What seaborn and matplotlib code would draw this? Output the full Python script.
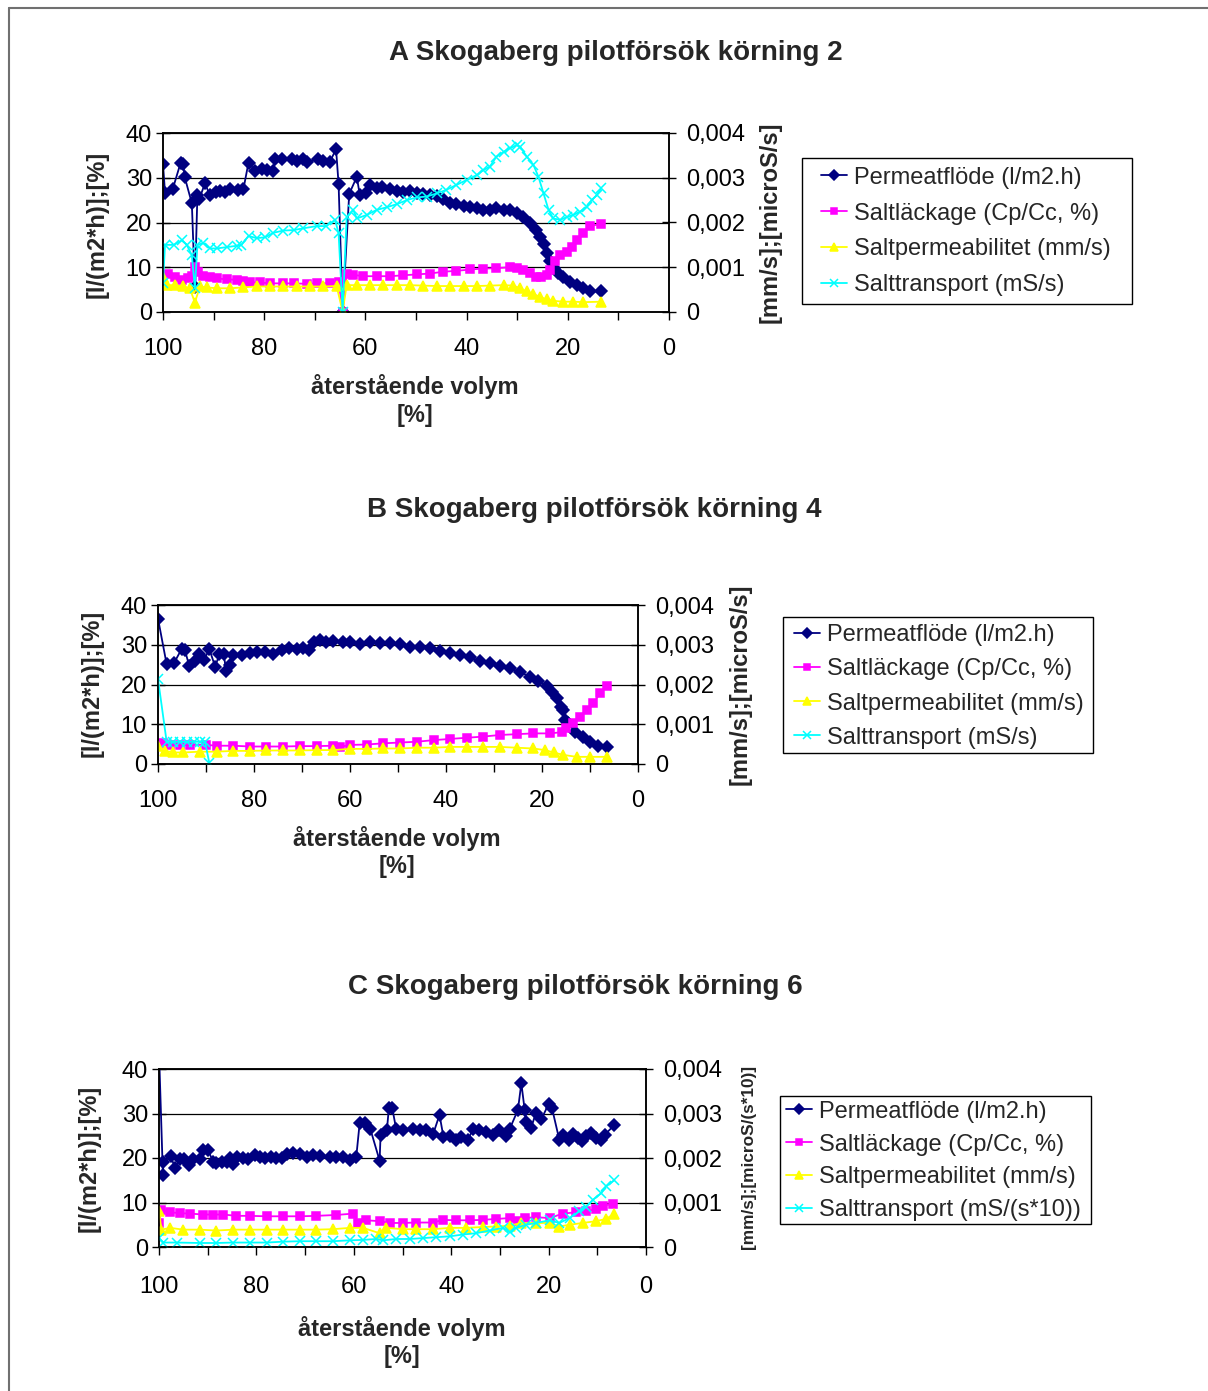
import numpy as np
import matplotlib
matplotlib.use("Agg")
import matplotlib.pyplot as plt
from matplotlib.lines import Line2D
from matplotlib.patches import Rectangle
from matplotlib.ticker import FixedLocator
import seaborn as sns

sns.set_style("white")
plt.rcParams["font.family"] = ["Liberation Sans", "DejaVu Sans"]

# ---------------- data: A, körning 2 ----------------
a_perm_vol = [100, 99.6, 98.1, 96.5, 96.0, 95.7, 94.3, 93.7, 93.2, 92.8, 91.7, 90.8, 89.6, 88.7, 87.7,
              86.8, 85.1, 84.1, 83.1, 81.8, 80.5, 79.5, 78.2, 77.9, 76.4, 74.6, 73.6, 72.3, 71.6, 69.3,
              68.3, 67.0, 65.8, 65.3, 64.5, 63.2, 61.7, 61.1, 59.9, 59.0, 57.8, 56.8, 55.1, 53.8, 52.5,
              51.2, 49.9, 48.6, 47.2, 45.9, 44.6, 43.3, 42.0, 40.6, 39.3, 38.0, 36.7, 35.4, 34.1, 32.7,
              31.4, 30.1, 28.8, 27.5, 26.2, 25.5, 24.8, 24.2, 23.5, 22.7, 21.9, 20.9, 19.6, 18.2, 16.9,
              15.6, 13.5]
a_perm = [33.0, 26.7, 27.4, 33.4, 33.0, 30.1, 24.3, 5.5, 26.2, 25.3, 28.8, 26.2, 26.9, 27.1, 26.9,
          27.4, 27.3, 27.5, 33.4, 31.6, 31.9, 31.7, 31.4, 34.3, 34.3, 34.1, 33.8, 34.3, 33.6, 34.1,
          33.8, 33.6, 36.4, 28.6, 0.1, 26.4, 30.2, 26.1, 26.5, 28.4, 27.6, 28.0, 27.4, 27.0, 26.9,
          27.1, 26.7, 26.4, 26.1, 25.9, 25.2, 24.4, 24.1, 23.7, 23.4, 23.2, 22.8, 22.7, 23.2, 22.9,
          22.8, 22.1, 21.2, 19.8, 18.3, 16.8, 15.2, 13.1, 11.3, 9.8, 8.7, 7.8, 6.8, 6.0, 5.3,
          4.6, 4.6]

a_leak_vol = [100, 99.0, 97.6, 96.3, 95.0, 94.3, 93.7, 93.0, 92.0, 90.7, 89.4, 87.4, 85.4, 84.1, 82.8,
              80.8, 78.9, 76.2, 74.2, 71.6, 69.6, 67.0, 65.3, 64.5, 63.7, 62.4, 60.4, 57.8, 55.1, 52.5,
              49.9, 47.2, 44.6, 42.0, 39.3, 36.7, 34.1, 31.4, 30.1, 28.8, 27.5, 26.2, 25.2, 24.2, 23.5,
              22.5, 21.5, 20.2, 19.2, 18.2, 16.9, 15.6, 13.4]
a_leak = [8.3, 8.5, 7.9, 7.2, 7.5, 8.0, 10.1, 9.0, 8.0, 7.8, 7.5, 7.3, 7.2, 7.0, 6.6,
          6.6, 6.4, 6.4, 6.4, 6.3, 6.4, 6.4, 6.8, 0.1, 8.5, 8.3, 8.0, 8.0, 8.0, 8.2,
          8.4, 8.6, 9.0, 9.2, 9.5, 9.7, 9.8, 10.0, 9.9, 9.4, 8.7, 7.9, 7.8, 8.3, 9.4,
          11.3, 12.7, 13.3, 14.6, 16.0, 17.6, 19.2, 19.7]

a_pmb_vol = [100, 99.3, 97.6, 96.0, 94.7, 93.7, 92.7, 91.4, 89.4, 86.8, 84.1, 81.5, 78.9, 76.2, 73.6,
             70.9, 68.3, 65.7, 64.5, 63.7, 61.7, 59.1, 56.5, 53.8, 51.2, 48.6, 45.9, 43.3, 40.6, 38.0,
             35.4, 32.7, 30.8, 29.4, 28.1, 26.8, 25.5, 24.2, 22.9, 20.9, 18.9, 16.9, 13.4]
a_pmb = [7.9e-4, 6.0e-4, 6.0e-4, 5.7e-4, 5.3e-4, 2.1e-4, 5.7e-4, 5.5e-4, 5.3e-4, 5.3e-4, 5.5e-4, 5.7e-4,
         5.7e-4, 5.7e-4, 5.7e-4, 5.7e-4, 5.7e-4, 5.8e-4, 0.1e-4, 6.0e-4, 6.0e-4, 6.0e-4, 6.0e-4, 6.0e-4,
         6.0e-4, 5.9e-4, 5.8e-4, 5.8e-4, 5.8e-4, 5.8e-4, 5.9e-4, 6.0e-4, 5.9e-4, 5.3e-4, 4.6e-4, 4.0e-4,
         3.4e-4, 2.8e-4, 2.5e-4, 2.3e-4, 2.3e-4, 2.2e-4, 2.3e-4]

a_trans_vol = [100, 99.6, 97.9, 96.3, 95.3, 94.3, 93.7, 93.2, 92.0, 90.7, 89.4, 87.4, 85.4, 84.5, 83.1,
               81.5, 79.8, 78.2, 76.2, 74.2, 72.3, 69.6, 67.7, 66.0, 65.3, 64.5, 63.7, 62.4, 61.7, 59.7,
               57.8, 55.8, 53.8, 51.8, 49.9, 47.9, 45.9, 44.0, 42.0, 40.0, 38.0, 36.7, 35.4, 34.1, 32.7,
               31.4, 30.1, 29.4, 28.1, 26.8, 25.8, 24.8, 23.8, 22.9, 21.5, 20.2, 18.9, 17.6, 16.3, 15.3,
               14.3, 13.4]
a_trans = [6.4e-4, 15.0e-4, 15.0e-4, 16.0e-4, 15.0e-4, 12.7e-4, 5.3e-4, 15.0e-4, 15.4e-4, 14.2e-4,
           14.2e-4, 14.5e-4, 14.8e-4, 15.0e-4, 17.0e-4, 16.5e-4, 16.7e-4, 17.7e-4, 18.2e-4, 18.3e-4,
           18.7e-4, 19.2e-4, 19.2e-4, 20.6e-4, 17.6e-4, 0.1e-4, 21.2e-4, 22.8e-4, 20.9e-4, 21.7e-4,
           22.8e-4, 23.4e-4, 24.1e-4, 25.0e-4, 25.6e-4, 25.8e-4, 26.5e-4, 27.3e-4, 28.4e-4, 29.5e-4,
           30.6e-4, 31.7e-4, 32.5e-4, 34.7e-4, 35.8e-4, 36.6e-4, 37.3e-4, 36.9e-4, 34.7e-4, 32.9e-4,
           30.2e-4, 26.5e-4, 22.8e-4, 20.9e-4, 20.6e-4, 21.2e-4, 21.7e-4, 22.4e-4, 23.5e-4, 25.0e-4,
           26.1e-4, 27.6e-4]

# ---------------- data: B, körning 4 ----------------
b_perm_vol = [100, 98.2, 96.7, 95.1, 94.4, 93.5, 92.3, 91.4, 90.4, 89.3, 88.1, 87.2, 86.3, 85.8, 85.1,
              84.3, 82.6, 80.8, 79.4, 77.7, 76.0, 74.2, 72.8, 71.1, 69.7, 68.5, 67.6, 66.3, 64.9, 63.5,
              61.4, 60.0, 57.9, 55.8, 53.8, 51.7, 49.6, 47.5, 45.4, 43.3, 41.3, 39.2, 37.1, 35.0, 32.9,
              30.8, 28.8, 26.7, 24.6, 22.5, 20.8, 19.0, 18.0, 16.9, 16.1, 15.6, 15.2, 14.5, 13.1, 11.4,
              10.0, 8.3, 6.5]
b_perm = [36.6, 25.1, 25.3, 28.9, 28.7, 24.7, 25.9, 27.6, 26.2, 28.9, 24.5, 27.6, 27.6, 23.4, 24.9,
          27.4, 27.3, 27.8, 28.1, 28.1, 27.6, 28.7, 29.3, 28.9, 29.1, 28.7, 30.8, 31.2, 30.8, 30.9,
          30.8, 30.6, 30.1, 30.6, 30.4, 30.4, 30.1, 29.5, 29.5, 29.1, 28.4, 27.8, 27.3, 26.8, 25.9,
          25.3, 24.7, 24.1, 23.1, 22.0, 20.9, 19.7, 18.2, 16.5, 14.4, 13.6, 11.1, 10.2, 8.1, 6.9,
          5.6, 4.6, 4.4]

b_leak_vol = [100, 98.9, 97.5, 95.4, 93.3, 89.9, 87.8, 84.3, 80.8, 77.4, 73.9, 70.4, 66.9, 63.5, 62.1,
              60.0, 56.5, 53.1, 49.6, 46.1, 42.6, 39.2, 35.7, 32.2, 28.8, 25.3, 21.8, 18.3, 15.9, 14.9,
              13.5, 12.1, 10.7, 9.3, 7.9, 6.5]
b_leak = [4.6, 5.2, 4.9, 4.8, 4.8, 4.8, 4.6, 4.6, 4.4, 4.4, 4.4, 4.5, 4.5, 4.6, 4.3,
          4.8, 4.9, 5.2, 5.4, 5.6, 6.0, 6.3, 6.6, 6.9, 7.3, 7.5, 7.7, 7.7, 8.0, 9.0,
          10.2, 11.9, 13.6, 15.3, 17.8, 19.7]

b_pmb_vol = [100, 98.5, 96.8, 94.7, 91.3, 87.8, 84.3, 80.8, 77.4, 73.9, 70.4, 66.9, 63.5, 60.0, 56.5,
             53.1, 49.6, 46.1, 42.6, 39.2, 35.7, 32.2, 28.8, 25.3, 21.8, 19.4, 17.6, 15.6, 12.8, 10.0,
             6.5]
b_pmb = [4.6e-4, 3.3e-4, 2.9e-4, 2.9e-4, 3.1e-4, 3.1e-4, 3.3e-4, 3.3e-4, 3.4e-4, 3.4e-4, 3.4e-4,
         3.5e-4, 3.5e-4, 3.8e-4, 3.8e-4, 3.9e-4, 3.9e-4, 4.1e-4, 4.1e-4, 4.3e-4, 4.3e-4, 4.3e-4,
         4.3e-4, 4.1e-4, 3.9e-4, 3.5e-4, 2.9e-4, 2.3e-4, 1.8e-4, 1.8e-4, 1.8e-4]

b_trans_vol = [100, 98.2, 96.8, 95.4, 94.0, 92.6, 91.3, 90.2, 89.3]
b_trans = [21.4e-4, 5.6e-4, 5.5e-4, 5.6e-4, 5.5e-4, 5.6e-4, 5.6e-4, 5.6e-4, 0.2e-4]

# ---------------- data: C, körning 6 ----------------
c_perm_vol = [100, 99.2, 99.1, 97.6, 96.7, 95.7, 94.9, 93.8, 93.0, 91.6, 91.0, 89.9, 88.9, 88.2, 87.1,
              86.1, 85.4, 84.8, 83.9, 82.7, 81.7, 80.3, 79.3, 78.3, 76.9, 75.9, 74.8, 73.8, 72.5, 71.1,
              69.7, 68.4, 67.0, 64.9, 63.6, 62.2, 60.8, 59.5, 58.8, 57.6, 56.6, 54.7, 54.5, 53.2, 52.8,
              52.1, 51.3, 49.9, 47.8, 46.5, 45.1, 43.7, 42.4, 41.6, 40.3, 39.0, 38.0, 36.6, 35.5, 34.2,
              32.8, 31.4, 30.1, 28.7, 28.0, 26.3, 25.6, 24.9, 24.6, 23.6, 22.6, 21.5, 20.0, 19.3, 17.8,
              17.0, 15.9, 15.0, 14.0, 13.1, 12.3, 11.3, 10.3, 9.2, 8.5, 6.5]
c_perm = [44.0, 16.2, 19.0, 20.5, 17.7, 19.7, 19.7, 18.5, 19.7, 19.7, 21.7, 21.7, 19.2, 18.8, 19.0,
          19.0, 20.0, 18.7, 20.2, 20.0, 19.7, 20.7, 20.3, 20.0, 20.2, 20.0, 20.0, 20.9, 21.2, 20.9,
          20.3, 20.7, 20.5, 20.3, 20.3, 20.2, 19.6, 20.2, 27.8, 27.8, 26.5, 19.4, 25.2, 26.3, 31.2,
          31.2, 26.5, 26.2, 26.5, 26.2, 26.3, 25.4, 29.7, 24.8, 25.0, 24.1, 24.7, 24.1, 26.5, 26.2,
          25.9, 25.2, 26.3, 25.0, 26.5, 30.8, 36.8, 30.7, 28.2, 26.7, 30.2, 28.7, 32.1, 31.2, 24.1,
          25.2, 24.1, 25.4, 24.4, 23.9, 25.0, 25.6, 24.4, 24.1, 25.2, 27.4]

c_leak_vol = [100, 99.5, 97.7, 95.7, 93.6, 90.9, 88.9, 86.8, 84.1, 81.3, 77.9, 74.5, 71.1, 67.7, 63.6,
              60.2, 59.1, 57.4, 54.7, 52.6, 49.9, 47.2, 43.7, 41.7, 39.0, 36.2, 33.5, 30.8, 28.0, 26.3,
              24.9, 22.6, 19.8, 17.1, 14.4, 12.3, 10.3, 8.9, 6.7]
c_leak = [5.4, 8.4, 7.8, 7.6, 7.5, 7.3, 7.3, 7.3, 7.0, 7.0, 6.9, 6.9, 6.9, 7.0, 7.2,
          7.5, 5.5, 6.0, 5.8, 5.4, 5.4, 5.5, 5.5, 6.1, 6.0, 6.0, 6.1, 6.3, 6.5, 5.8,
          6.5, 6.7, 6.5, 7.5, 7.8, 8.0, 8.5, 9.3, 9.7]

c_pmb_vol = [100, 99.5, 97.7, 95.0, 91.6, 88.2, 84.8, 81.3, 77.9, 74.5, 71.1, 67.7, 64.3, 60.8, 58.1,
             54.7, 53.3, 49.9, 47.2, 43.7, 40.3, 36.9, 33.5, 30.8, 28.0, 25.6, 22.6, 19.8, 17.8, 15.7,
             13.0, 10.3, 8.2, 6.5]
c_pmb = [8.2e-4, 3.9e-4, 4.3e-4, 3.9e-4, 3.9e-4, 3.7e-4, 3.9e-4, 3.9e-4, 3.9e-4, 3.9e-4, 3.9e-4,
         3.9e-4, 4.0e-4, 4.3e-4, 4.3e-4, 3.1e-4, 4.3e-4, 4.0e-4, 4.0e-4, 4.0e-4, 4.3e-4, 4.3e-4,
         4.5e-4, 4.6e-4, 4.8e-4, 5.4e-4, 5.4e-4, 5.4e-4, 4.6e-4, 5.0e-4, 5.4e-4, 5.8e-4, 6.3e-4, 7.5e-4]

c_trans_vol = [100, 99.1, 96.4, 91.6, 88.2, 84.8, 81.3, 77.9, 74.5, 71.1, 67.7, 64.3, 60.8, 58.1, 55.4,
               54.0, 51.3, 48.5, 45.8, 43.1, 40.3, 37.6, 34.9, 32.1, 29.4, 28.0, 26.7, 24.6, 22.6, 19.8,
               17.8, 15.7, 13.7, 12.3, 10.9, 9.2, 8.2, 6.5]
c_trans = [2.0e-4, 1.0e-4, 1.0e-4, 0.9e-4, 0.9e-4, 1.0e-4, 1.0e-4, 1.0e-4, 1.2e-4, 1.3e-4, 1.3e-4,
           1.3e-4, 1.5e-4, 1.6e-4, 1.8e-4, 1.5e-4, 1.8e-4, 1.8e-4, 2.0e-4, 2.2e-4, 2.4e-4, 2.8e-4,
           3.1e-4, 3.7e-4, 4.3e-4, 3.3e-4, 4.3e-4, 5.0e-4, 5.4e-4, 6.0e-4, 5.4e-4, 6.5e-4, 8.0e-4,
           9.1e-4, 10.6e-4, 12.1e-4, 13.6e-4, 15.0e-4]

# ---------------- text ----------------
titles = ["A Skogaberg pilotförsök körning 2",
          "B Skogaberg pilotförsök körning 4",
          "C Skogaberg pilotförsök körning 6"]
x_label = "återstående volym\n[%]"
y_left_label = "[l/(m2*h)];[%]"
y_right_labels = ["[mm/s];[microS/s]", "[mm/s];[microS/s]", "[mm/s];[microS/(s*10)]"]
legend_labels = [
    ["Permeatflöde (l/m2.h)", "Saltläckage (Cp/Cc, %)", "Saltpermeabilitet (mm/s)", "Salttransport (mS/s)"],
    ["Permeatflöde (l/m2.h)", "Saltläckage (Cp/Cc, %)", "Saltpermeabilitet (mm/s)", "Salttransport (mS/s)"],
    ["Permeatflöde (l/m2.h)", "Saltläckage (Cp/Cc, %)", "Saltpermeabilitet (mm/s)", "Salttransport (mS/(s*10))"],
]
left_ticks = [0, 10, 20, 30, 40]
right_ticks = [0, 0.001, 0.002, 0.003, 0.004]
right_tick_labels = ["0", "0,001", "0,002", "0,003", "0,004"]

# ---------------- figure ----------------
W, H = 1208, 1391
fig = plt.figure(figsize=(W / 100, H / 100), dpi=100)
fig.patch.set_facecolor("white")


def fx(px):
    return px / W


def fy(py):
    return 1 - py / H


STYLE = {
    "perm": dict(color="#000080", marker="D", ms=6.5),
    "leak": dict(color="#FF00FF", marker="s", ms=6.0),
    "pmb": dict(color="#FFFF00", marker="^", ms=6.5),
    "trans": dict(color="#00FFFF", marker="x", ms=6.5),
}


def draw(ax, x, y, key):
    st = STYLE[key]
    sns.lineplot(x=np.asarray(x), y=np.asarray(y), ax=ax, sort=False, estimator=None,
                 color=st["color"], marker=st["marker"], markersize=st["ms"],
                 markeredgecolor=st["color"], markerfacecolor=st["color"],
                 markeredgewidth=1.1, linewidth=1.3, legend=False)
    return ax.lines[-1]


panels = [
    dict(box=(163, 669, 133, 312),
         data=[(a_perm_vol, a_perm), (a_leak_vol, a_leak), (a_pmb_vol, a_pmb), (a_trans_vol, a_trans)],
         title=(616, 53), xlab=(415, 400.5), ylab=(97, 224), rlab=(770, 222, 17), xpad=12.5,
         leg_box=(802, 1132, 158, 304), leg_anchor=(821, 231.5), leg_space=0.59),
    dict(box=(158, 638, 605, 764),
         data=[(b_perm_vol, b_perm), (b_leak_vol, b_leak), (b_pmb_vol, b_pmb), (b_trans_vol, b_trans)],
         title=(594, 510), xlab=(397, 852), ylab=(92, 683), rlab=(740, 684, 17), xpad=12.5,
         leg_box=(783, 1093, 617, 753), leg_anchor=(794, 686.5), leg_space=0.51),
    dict(box=(159, 646, 1069, 1247),
         data=[(c_perm_vol, c_perm), (c_leak_vol, c_leak), (c_pmb_vol, c_pmb), (c_trans_vol, c_trans)],
         title=(575, 987), xlab=(402, 1342), ylab=(89, 1158), rlab=(748, 1157, 12.4), xpad=15,
         leg_box=(780, 1091, 1096, 1224), leg_anchor=(786, 1161), leg_space=0.46),
]

for i, p in enumerate(panels):
    x0, x1, y0, y1 = p["box"]
    ax = fig.add_axes([fx(x0), fy(y1), fx(x1) - fx(x0), fy(y0) - fy(y1)])
    ax2 = ax.twinx()

    handles = []
    (xv, yv), (xl, yl), (xp, yp), (xt, yt) = p["data"]
    handles.append(draw(ax, xv, yv, "perm"))
    handles.append(draw(ax, xl, yl, "leak"))
    handles.append(draw(ax2, xp, yp, "pmb"))
    handles.append(draw(ax2, xt, yt, "trans"))

    ax.set_xlim(100, 0)
    ax.set_ylim(0, 40)
    ax2.set_ylim(0, 0.004)
    ax.set_xlabel("")
    ax.set_ylabel("")
    ax2.set_ylabel("")

    ax.xaxis.set_major_locator(FixedLocator(list(range(0, 101, 10))))
    ax.set_xticklabels([str(t) if t % 20 == 0 else "" for t in range(0, 101, 10)])
    ax.set_yticks(left_ticks)
    ax.set_yticklabels([str(t) for t in left_ticks])
    ax2.set_yticks(right_ticks)
    ax2.set_yticklabels(right_tick_labels)

    ax.grid(False)
    ax2.grid(False)
    ax.yaxis.grid(True, color="black", linewidth=0.9)
    ax.set_axisbelow(True)

    for a in (ax, ax2):
        for s in a.spines.values():
            s.set_visible(True)
            s.set_color("black")
            s.set_linewidth(1.1)

    ax.tick_params(axis="x", which="both", direction="out", length=6, width=1, pad=p["xpad"],
                   labelsize=17, bottom=True, top=False, colors="black")
    ax.tick_params(axis="y", direction="inout", length=10, width=1, pad=3,
                   labelsize=17, left=True, right=False, colors="black")
    ax2.tick_params(axis="y", direction="inout", length=10, width=1, pad=7,
                    labelsize=17, right=True, left=False, colors="black")

    tx, ty = p["title"]
    fig.text(fx(tx), fy(ty), titles[i], ha="center", va="center", fontsize=20, fontweight="bold")
    lx, ly = p["xlab"]
    fig.text(fx(lx), fy(ly), x_label, ha="center", va="center", fontsize=17, fontweight="bold",
             multialignment="center", linespacing=1.25)
    yx, yy = p["ylab"]
    fig.text(fx(yx), fy(yy), y_left_label, ha="center", va="center", rotation=90,
             fontsize=17, fontweight="bold")
    rx, ry, rs = p["rlab"]
    fig.text(fx(rx), fy(ry), y_right_labels[i], ha="center", va="center", rotation=90,
             fontsize=rs, fontweight="bold")

    bx0, bx1, by0, by1 = p["leg_box"]
    fig.add_artist(Rectangle((fx(bx0), fy(by1)), fx(bx1) - fx(bx0), fy(by0) - fy(by1),
                             transform=fig.transFigure, fill=False, edgecolor="black", linewidth=1.0))
    hx, hy = p["leg_anchor"]
    fig.legend(handles, legend_labels[i], loc="center left", bbox_to_anchor=(fx(hx), fy(hy)),
               bbox_transform=fig.transFigure, frameon=False, fontsize=17, handlelength=1.1,
               handletextpad=0.3, labelspacing=p["leg_space"], borderpad=0, borderaxespad=0,
               markerscale=0.8)

# outer chart border (top and left edges)
fig.add_artist(Line2D([fx(9), fx(9)], [fy(8), 0], transform=fig.transFigure, color="#707070", linewidth=1.5))
fig.add_artist(Line2D([fx(9), 1], [fy(8), fy(8)], transform=fig.transFigure, color="#707070", linewidth=1.5))

fig.savefig("out.png", dpi=100)
